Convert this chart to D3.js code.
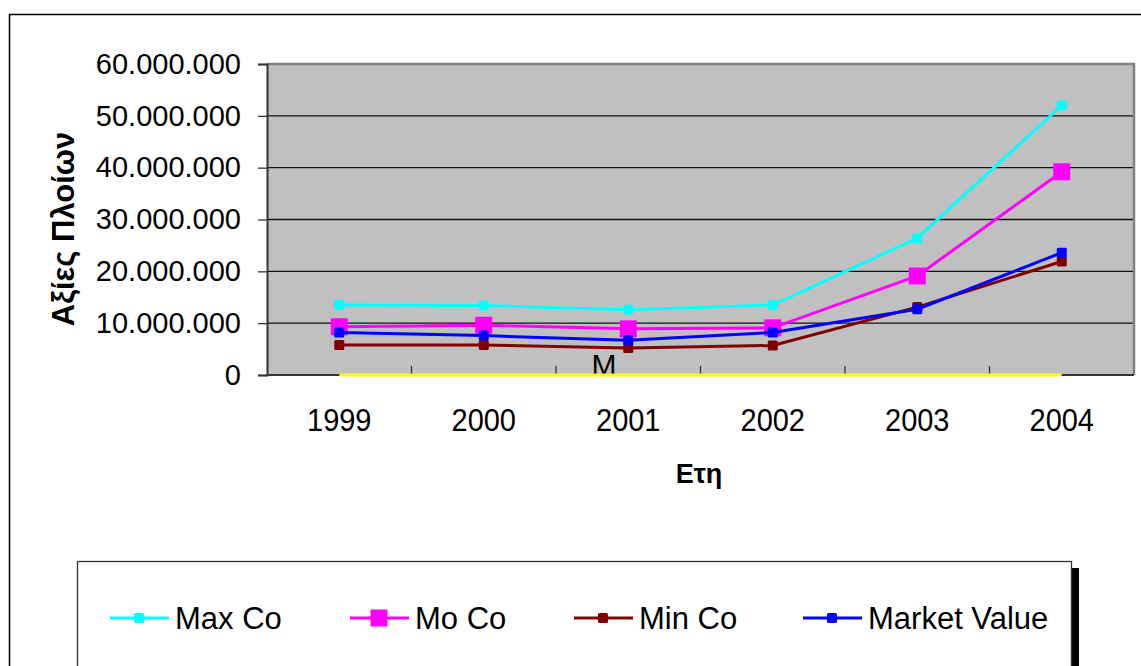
<!DOCTYPE html>
<html>
<head>
<meta charset="utf-8">
<script src="https://cdn.jsdelivr.net/npm/d3@7"></script>
<style>
  html, body { margin: 0; padding: 0; background: #fff; }
  svg { display: block; font-family: "Liberation Sans", Arial, sans-serif; }
</style>
</head>
<body>
<div id="chart"></div>
<script>
// data
const years = ["1999", "2000", "2001", "2002", "2003", "2004"];
const maxCo = [13500000, 13400000, 12600000, 13500000, 26400000, 52000000];
const moCo = [9300000, 9600000, 8900000, 9100000, 19100000, 39200000];
const minCo = [5800000, 5800000, 5200000, 5700000, 13100000, 21900000];
const marketValue = [8200000, 7600000, 6700000, 8200000, 12700000, 23600000];
const baseline = [0, 0, 0, 0, 0, 0];
const yTicks = [0, 10000000, 20000000, 30000000, 40000000, 50000000, 60000000];

const seriesNames = ["Max Co", "Mo Co", "Min Co", "Market Value"];

var width = 1141, height = 666;
var plot = { left: 267, top: 64, right: 1134, bottom: 375 };

var svg = d3.select("#chart").append("svg")
  .attr("width", width)
  .attr("height", height);

// outer chart frame
svg.append("rect")
  .attr("x", 9.5).attr("y", 14.5)
  .attr("width", 1200).attr("height", 700)
  .attr("fill", "#fff")
  .attr("stroke", "#000")
  .attr("stroke-width", 1.5);

var x = d3.scaleBand()
  .domain(years)
  .range([plot.left, plot.right])
  .padding(0);

var y = d3.scaleLinear()
  .domain([0, 60000000])
  .range([plot.bottom, plot.top]);

var locale = d3.formatLocale({ decimal: ",", thousands: ".", grouping: [3], currency: ["", ""] });
var fmt = locale.format(",.0f");

// plot background
svg.append("rect")
  .attr("x", plot.left).attr("y", plot.top)
  .attr("width", plot.right - plot.left)
  .attr("height", plot.bottom - plot.top)
  .attr("fill", "#c0c0c0");

// horizontal gridlines
svg.append("g")
  .selectAll("line")
  .data(yTicks.filter(d => d > 0 && d < 60000000))
  .join("line")
  .attr("x1", plot.left).attr("x2", plot.right)
  .attr("y1", d => y(d)).attr("y2", d => y(d))
  .attr("stroke", "#111")
  .attr("stroke-width", 1.3);

// plot border (top & right)
svg.append("path")
  .attr("d", "M" + plot.left + "," + plot.top + "H" + plot.right + "V" + plot.bottom)
  .attr("fill", "none")
  .attr("stroke", "#808080")
  .attr("stroke-width", 2.5);

// y axis
var yAxis = svg.append("g")
  .attr("transform", "translate(" + plot.left + ",0)")
  .call(d3.axisLeft(y).tickValues(yTicks).tickFormat(fmt).tickSize(9).tickPadding(17));
yAxis.select(".domain").attr("stroke", "#333").attr("stroke-width", 2);
yAxis.selectAll(".tick line").attr("stroke", "#333").attr("stroke-width", 1.3);
yAxis.selectAll(".tick text")
  .attr("font-size", 29)
  .attr("font-family", "Liberation Sans, Arial, sans-serif")
  .attr("fill", "#000");

// x axis: ticks at category boundaries, pointing up
var boundaries = years.map(d => x(d)).slice(1);
svg.append("g")
  .selectAll("line")
  .data(boundaries)
  .join("line")
  .attr("x1", d => d).attr("x2", d => d)
  .attr("y1", plot.bottom).attr("y2", plot.bottom - 9)
  .attr("stroke", "#333")
  .attr("stroke-width", 1.3);

svg.append("line")
  .attr("x1", plot.left).attr("x2", plot.right)
  .attr("y1", plot.bottom).attr("y2", plot.bottom)
  .attr("stroke", "#333")
  .attr("stroke-width", 2);

// category labels, slightly taller glyphs like the original
svg.append("g")
  .selectAll("text")
  .data(years)
  .join("text")
  .attr("transform", d => "translate(" + (x(d) + x.bandwidth() / 2) + ",431) scale(1,1.1)")
  .attr("text-anchor", "middle")
  .attr("font-size", 29)
  .text(d => d);

// axis titles
svg.append("text")
  .attr("x", 699).attr("y", 483)
  .attr("text-anchor", "middle")
  .attr("font-size", 27)
  .attr("font-weight", "bold")
  .text("Ετη");

svg.append("text")
  .attr("transform", "translate(74,229) rotate(-90)")
  .attr("text-anchor", "middle")
  .attr("font-size", 31)
  .attr("font-weight", "bold")
  .text("Αξίες Πλοίων");

// stray label inside plot
svg.append("text")
  .attr("x", 604).attr("y", 375)
  .attr("text-anchor", "middle")
  .attr("font-size", 30)
  .text("M");

var line = d3.line()
  .x((d, i) => x(years[i]) + x.bandwidth() / 2)
  .y(d => y(d));

// yellow zero series along the axis
svg.append("path")
  .datum(baseline)
  .attr("d", line)
  .attr("fill", "none")
  .attr("stroke", "#ffff00")
  .attr("stroke-width", 3);

var series = [
  { name: seriesNames[0], values: maxCo, color: "#00ffff", size: 10 },
  { name: seriesNames[1], values: moCo, color: "#ff00ff", size: 17 },
  { name: seriesNames[2], values: minCo, color: "#800000", size: 10 },
  { name: seriesNames[3], values: marketValue, color: "#0000ff", size: 10 }
];

series.forEach(s => {
  var g = svg.append("g");
  g.append("path")
    .datum(s.values)
    .attr("d", line)
    .attr("fill", "none")
    .attr("stroke", s.color)
    .attr("stroke-width", 3);
  g.selectAll("rect")
    .data(s.values)
    .join("rect")
    .attr("x", (d, i) => x(years[i]) + x.bandwidth() / 2 - s.size / 2)
    .attr("y", d => y(d) - s.size / 2)
    .attr("width", s.size)
    .attr("height", s.size)
    .attr("rx", s.size < 12 ? 1.5 : 0)
    .attr("fill", s.color);
});

// legend
var legend = { left: 77, top: 561, right: 1071 };
svg.append("rect")
  .attr("x", legend.right).attr("y", 568)
  .attr("width", 8).attr("height", 200)
  .attr("fill", "#000");
svg.append("rect")
  .attr("x", legend.left + 0.5).attr("y", legend.top + 0.5)
  .attr("width", legend.right - legend.left).attr("height", 200)
  .attr("fill", "#fff")
  .attr("stroke", "#333")
  .attr("stroke-width", 1.3);

var legendX = [110, 350, 574, 803];
var items = svg.append("g")
  .selectAll("g")
  .data(series)
  .join("g")
  .attr("transform", (d, i) => "translate(" + legendX[i] + ",618)");
items.append("line")
  .attr("x1", 0).attr("x2", 59)
  .attr("stroke", d => d.color)
  .attr("stroke-width", 3);
items.append("rect")
  .attr("x", d => 29 - d.size / 2)
  .attr("y", d => -d.size / 2)
  .attr("width", d => d.size)
  .attr("height", d => d.size)
  .attr("rx", d => d.size < 12 ? 1.5 : 0)
  .attr("fill", d => d.color);
items.append("text")
  .attr("x", 65)
  .attr("y", 11)
  .attr("font-size", 31)
  .text(d => d.name);
</script>
</body>
</html>
